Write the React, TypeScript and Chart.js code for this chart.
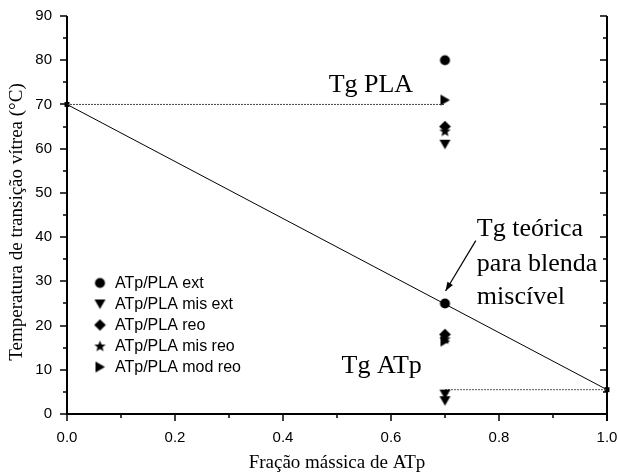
import React, { useEffect, useRef } from "react";
import { Chart, registerables } from "chart.js";

Chart.register(...registerables);

// ---------- data ----------
const blendFraction = 0.7;
const seriesLabels = [
  "ATp/PLA ext",
  "ATp/PLA mis ext",
  "ATp/PLA reo",
  "ATp/PLA mis reo",
  "ATp/PLA mod reo",
];
const extValues = [80, 25];
const misExtValues = [61, 4.5, 3];
const reoValues = [65, 18];
const misReoValues = [64, 17];
const modReoValues = [71, 16.5];

const tgPLA = 70;
const tgATp = 5.5;
const pureFractions = [0, 1];

const xTickValues = [0, 0.2, 0.4, 0.6, 0.8, 1.0];
const yTickValues = [0, 10, 20, 30, 40, 50, 60, 70, 80, 90];

const xTitle = "Fração mássica de ATp";
const yTitle = "Temperatura de transição vítrea (°C)";
const noteLines = ["Tg teórica", "para blenda", "miscível"];

const SERIF = "'Liberation Serif', 'Times New Roman', serif";
const SANS = "'Liberation Sans', Arial, sans-serif";

type Kind = "circle" | "down" | "diamond" | "star" | "right";

function makeMarker(kind: Kind): HTMLCanvasElement {
  const s = 13;
  const c = document.createElement("canvas");
  c.width = s;
  c.height = s;
  const g = c.getContext("2d")!;
  g.fillStyle = "#000";
  g.beginPath();
  const m = s / 2;
  if (kind === "circle") {
    g.arc(m, m, 5, 0, Math.PI * 2);
  } else if (kind === "down") {
    g.moveTo(m - 5.5, m - 4.5);
    g.lineTo(m + 5.5, m - 4.5);
    g.lineTo(m, m + 5);
    g.closePath();
  } else if (kind === "diamond") {
    g.moveTo(m, m - 5.8);
    g.lineTo(m + 5.8, m);
    g.lineTo(m, m + 5.8);
    g.lineTo(m - 5.8, m);
    g.closePath();
  } else if (kind === "star") {
    for (let i = 0; i < 10; i++) {
      const r = i % 2 === 0 ? 6 : 2.6;
      const a = -Math.PI / 2 + (i * Math.PI) / 5;
      const px = m + r * Math.cos(a);
      const py = m + 0.5 + r * Math.sin(a);
      if (i === 0) g.moveTo(px, py);
      else g.lineTo(px, py);
    }
    g.closePath();
  } else {
    g.moveTo(m - 4.5, m - 5.5);
    g.lineTo(m + 5, m);
    g.lineTo(m - 4.5, m + 5.5);
    g.closePath();
  }
  g.fill();
  return c;
}

const markerKinds: Kind[] = ["circle", "down", "diamond", "star", "right"];
const seriesValues = [extValues, misExtValues, reoValues, misReoValues, modReoValues];

export default function App() {
  const ref = useRef<HTMLCanvasElement | null>(null);

  useEffect(() => {
    if (!ref.current) return;
    const markers = markerKinds.map(makeMarker);

    const pointSets: any[] = seriesValues.map((vals, i) => ({
      type: "scatter",
      label: seriesLabels[i],
      data: vals.map((v) => ({ x: blendFraction, y: v })),
      pointStyle: markers[i],
      showLine: false,
      order: 1,
      clip: false,
    }));

    const foxLine: any = {
      type: "line",
      label: "",
      data: pureFractions.map((f, i) => ({ x: f, y: i === 0 ? tgPLA : tgATp })),
      borderColor: "#000",
      borderWidth: 1,
      pointStyle: "rect",
      pointRadius: 3.5,
      pointBackgroundColor: "#000",
      pointBorderColor: "#000",
      pointBorderWidth: 0,
      showLine: true,
      order: 3,
      clip: false,
    };
    const plaDots: any = {
      type: "line",
      label: "",
      data: [
        { x: pureFractions[0], y: tgPLA },
        { x: blendFraction, y: tgPLA },
      ],
      borderColor: "#444",
      borderWidth: 1,
      borderDash: [2, 1],
      pointRadius: 0,
      showLine: true,
      order: 2,
    };
    const atpDots: any = {
      type: "line",
      label: "",
      data: [
        { x: blendFraction, y: tgATp },
        { x: pureFractions[1], y: tgATp },
      ],
      borderColor: "#555",
      borderWidth: 1,
      borderDash: [2, 1],
      pointRadius: 0,
      showLine: true,
      order: 2,
    };

    const overlay = {
      id: "overlay",
      afterDraw(chart: any) {
        const ctx: CanvasRenderingContext2D = chart.ctx;
        const xs = chart.scales.x;
        const ys = chart.scales.y;
        const { left, right, top, bottom } = chart.chartArea;
        ctx.save();
        ctx.strokeStyle = "#000";
        ctx.fillStyle = "#000";

        // axis lines
        ctx.lineWidth = 2;
        ctx.beginPath();
        ctx.moveTo(left, top);
        ctx.lineTo(left, bottom + 1);
        ctx.moveTo(left - 1, bottom);
        ctx.lineTo(right + 1, bottom);
        ctx.moveTo(right, top);
        ctx.lineTo(right, bottom + 7);
        ctx.stroke();

        // ticks
        ctx.lineWidth = 1.5;
        ctx.beginPath();
        for (let v = 0; v <= 90 + 1e-6; v += 5) {
          const y = Math.round(ys.getPixelForValue(v));
          const major = v % 10 === 0;
          const L = major ? 7 : 4;
          ctx.moveTo(left - L, y);
          ctx.lineTo(left, y);
          ctx.moveTo(right - L, y);
          ctx.lineTo(right, y);
        }
        for (let k = 0; k <= 10; k++) {
          const v = k / 10;
          const x = Math.round(xs.getPixelForValue(v));
          const L = k % 2 === 0 ? 7 : 4;
          ctx.moveTo(x, bottom);
          ctx.lineTo(x, bottom + L);
        }
        ctx.stroke();

        // axis titles
        ctx.font = `19px ${SERIF}`;
        ctx.textAlign = "center";
        ctx.textBaseline = "middle";
        ctx.fillText(xTitle, (left + right) / 2, 463);
        ctx.save();
        ctx.translate(17, 222);
        ctx.rotate(-Math.PI / 2);
        ctx.fillText(yTitle, 0, 0);
        ctx.restore();

        // annotations
        ctx.font = `26px ${SERIF}`;
        ctx.textBaseline = "alphabetic";
        ctx.textAlign = "right";
        ctx.fillText("Tg PLA", xs.getPixelForValue(0.641), ys.getPixelForValue(72.9));
        ctx.fillText("Tg ATp", xs.getPixelForValue(0.657), ys.getPixelForValue(9.3));
        ctx.textAlign = "left";
        const noteY = [40.3, 32.4, 24.8];
        noteLines.forEach((t, i) => {
          ctx.fillText(t, xs.getPixelForValue(0.759), ys.getPixelForValue(noteY[i]));
        });

        // arrow to theoretical point
        const x1 = xs.getPixelForValue(0.757);
        const y1 = ys.getPixelForValue(39.2);
        const x2 = xs.getPixelForValue(0.701);
        const y2 = ys.getPixelForValue(27.8);
        ctx.lineWidth = 1.2;
        ctx.beginPath();
        ctx.moveTo(x1, y1);
        ctx.lineTo(x2, y2);
        ctx.stroke();
        const ang = Math.atan2(y2 - y1, x2 - x1);
        const hl = 9;
        const hw = 3.2;
        ctx.beginPath();
        ctx.moveTo(x2, y2);
        ctx.lineTo(
          x2 - hl * Math.cos(ang) + hw * Math.sin(ang),
          y2 - hl * Math.sin(ang) - hw * Math.cos(ang)
        );
        ctx.lineTo(
          x2 - hl * Math.cos(ang) - hw * Math.sin(ang),
          y2 - hl * Math.sin(ang) + hw * Math.cos(ang)
        );
        ctx.closePath();
        ctx.fill();

        // legend
        ctx.font = `16px ${SANS}`;
        ctx.textAlign = "left";
        ctx.textBaseline = "middle";
        seriesLabels.forEach((lab, i) => {
          const y = 283 + i * 21;
          const mk = markers[i];
          ctx.drawImage(mk, 100 - mk.width / 2, y - mk.height / 2);
          ctx.fillText(lab, 115, y + 1);
        });

        ctx.restore();
      },
    };

    const chart = new Chart(ref.current, {
      type: "scatter",
      data: { datasets: [...pointSets, plaDots, atpDots, foxLine] },
      options: {
        animation: false,
        responsive: false,
        layout: { padding: { left: 0, right: 11, top: 16, bottom: 0 } },
        plugins: { legend: { display: false }, tooltip: { enabled: false } },
        scales: {
          x: {
            type: "linear",
            min: 0,
            max: 1,
            afterFit: (s: any) => {
              s.height = 62;
              s.paddingLeft = 0;
              s.paddingRight = 0;
            },
            afterBuildTicks: (s: any) => {
              s.ticks = xTickValues.map((v) => ({ value: v }));
            },
            grid: { display: false, drawTicks: false },
            border: { display: false },
            ticks: {
              padding: 15,
              color: "#000",
              font: { family: SANS, size: 15 },
              callback: (v: any) => Number(v).toFixed(1),
              maxRotation: 0,
            },
          },
          y: {
            type: "linear",
            min: 0,
            max: 90,
            afterFit: (s: any) => {
              s.width = 67;
              s.paddingTop = 0;
              s.paddingBottom = 0;
            },
            afterBuildTicks: (s: any) => {
              s.ticks = yTickValues.map((v) => ({ value: v }));
            },
            grid: { display: false, drawTicks: false },
            border: { display: false },
            ticks: {
              padding: 15,
              color: "#000",
              font: { family: SANS, size: 15 },
            },
          },
        },
      },
      plugins: [overlay],
    } as any);

    return () => chart.destroy();
  }, []);

  return (
    <div style={{ position: "fixed", left: 0, top: 0, width: 618, height: 476, background: "#fff" }}>
      <canvas ref={ref} width={618} height={476} style={{ display: "block" }} />
    </div>
  );
}
